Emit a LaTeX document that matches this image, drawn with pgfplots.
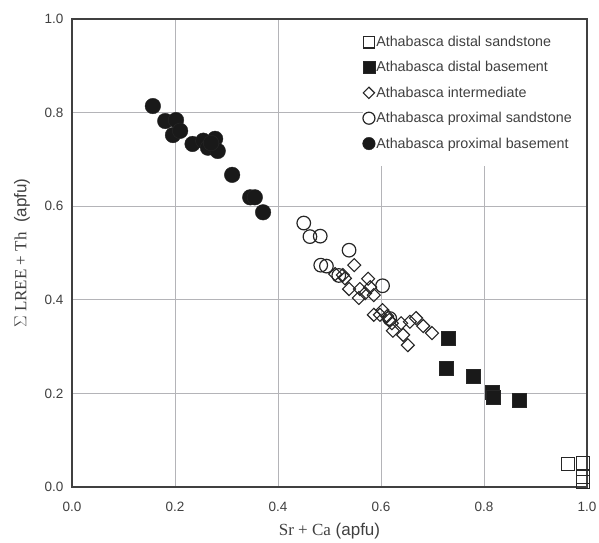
\documentclass[border=0pt]{standalone}
\usepackage{pgfplots}
\pgfplotsset{compat=1.18}
\usepackage{fontspec}
\setmainfont{Liberation Sans}
\newfontfamily\serif{Liberation Serif}
\definecolor{gridc}{HTML}{B4B4B8}
\definecolor{framec}{HTML}{404040}
\definecolor{markc}{HTML}{262626}
\begin{document}
\begin{tikzpicture}
\useasboundingbox (-72pt,-55pt) rectangle (527pt,487pt);
\begin{axis}[
  at={(0,0)}, anchor=south west,
  scale only axis, width=515pt, height=468pt,
  xmin=0, xmax=1, ymin=0, ymax=1,
  xtick={0,0.2,...,1.0}, ytick={0,0.2,...,1.0},
  xticklabels={0.0,0.2,0.4,0.6,0.8,1.0},
  yticklabels={0.0,0.2,0.4,0.6,0.8,1.0},
  major tick length=0pt,
  grid=major,
  major grid style={gridc, line width=0.8pt},
  axis line style={framec, line width=1.3pt},
  tick label style={font=\fontsize{13.5}{15}\selectfont, text=framec},
  /pgf/number format/assume math mode=true,
  xticklabel style={yshift=-12pt},
  yticklabel style={xshift=-5pt},
  xlabel={{\serif Sr + Ca} (apfu)},
  ylabel={{\serif $\Sigma$ LREE + Th}\ \ (apfu)},
  label style={font=\fontsize{17}{19}\selectfont, text=framec},
  xlabel style={yshift=-4pt},
  ylabel style={yshift=8pt},
  legend cell align=left,
  legend style={at={(rel axis cs:1,1)}, anchor=north east, xshift=-1pt, yshift=-1pt,
    draw=none, fill=white,
    font=\fontsize{14.3}{16}\selectfont, text=framec,
    inner xsep=0pt, inner ysep=14pt, row sep=9.5pt,
    nodes={inner xsep=1pt}},
  legend image code/.code={\draw[#1] plot coordinates {(0.12cm,0cm)};},
]
% distal sandstone
\addplot[only marks, mark=square, mark size=6.5pt, markc, line width=1.3pt,
  legend image post style={mark size=5.8pt, line width=1.2pt}] coordinates {
(0.963,0.049) (0.992,0.051) (0.992,0.021) (0.992,0.011)
};
\addlegendentry{Athabasca distal sandstone}
% distal basement
\addplot[only marks, mark=square*, mark size=7pt, markc, fill=black!90,
  legend image post style={mark size=6pt}] coordinates {
(0.730,0.318) (0.726,0.254) (0.779,0.237) (0.815,0.203) (0.818,0.192) (0.868,0.186)
};
\addlegendentry{Athabasca distal basement}
% intermediate
\addplot[only marks, mark=square, mark size=4.6pt, mark options={rotate=45}, markc, line width=1.1pt,
  legend image post style={mark size=4.0pt}] coordinates {
(0.548,0.474) (0.511,0.455) (0.526,0.453) (0.530,0.446) (0.538,0.423)
(0.559,0.423) (0.579,0.427) (0.557,0.404) (0.586,0.410) (0.569,0.414)
(0.586,0.368) (0.603,0.378) (0.612,0.365) (0.621,0.350) (0.623,0.334)
(0.639,0.350) (0.643,0.325) (0.656,0.353) (0.668,0.361) (0.682,0.344)
(0.699,0.329) (0.652,0.303) (0.598,0.368) (0.616,0.357) (0.575,0.445)
};
\addlegendentry{Athabasca intermediate}
% proximal sandstone
\addplot[only marks, mark=o, mark size=6.8pt, markc, line width=1.2pt,
  legend image post style={mark size=6pt}] coordinates {
(0.450,0.564) (0.462,0.535) (0.482,0.536) (0.538,0.506) (0.483,0.474)
(0.494,0.472) (0.603,0.430) (0.518,0.452) (0.617,0.360)
};
\addlegendentry{Athabasca proximal sandstone\hspace*{13pt}}
% proximal basement
\addplot[only marks, mark=*, mark size=7.8pt, markc, fill=black!90,
  legend image post style={mark size=6.3pt}] coordinates {
(0.157,0.814) (0.181,0.782) (0.202,0.784) (0.196,0.752) (0.210,0.761)
(0.234,0.733) (0.255,0.740) (0.264,0.725) (0.278,0.744) (0.283,0.718)
(0.270,0.735) (0.311,0.667) (0.346,0.619) (0.355,0.619) (0.371,0.587)
};
\addlegendentry{Athabasca proximal basement}
\end{axis}
\end{tikzpicture}
\end{document}
